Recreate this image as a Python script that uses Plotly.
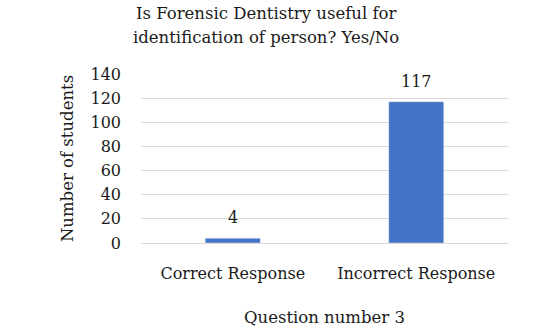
import plotly.graph_objects as go

categories = ["Correct Response", "Incorrect Response"]
values = [4, 117]
y_ticks = [0, 20, 40, 60, 80, 100, 120, 140]
title_lines = ["Is Forensic Dentistry useful for", "identification of person? Yes/No"]

FONT = "DejaVu Serif"
TXT = "#1a1a1a"

fig = go.Figure(go.Bar(
    x=categories, y=values,
    marker_color="#4472C4",
    cliponaxis=False,
))

annotations = []
for line, shift in zip(title_lines, [61, 37]):
    annotations.append(dict(
        text=line, xref="paper", yref="paper", x=0.34, xanchor="center",
        y=1.0, yshift=shift, yanchor="middle", showarrow=False,
        font=dict(family=FONT, size=16.5, color=TXT),
    ))
for c, v in zip(categories, values):
    annotations.append(dict(
        text=str(v), x=c, y=v, xref="x", yref="y",
        yanchor="bottom", yshift=9, showarrow=False,
        font=dict(family=FONT, size=16, color=TXT),
    ))

fig.update_layout(
    width=546, height=328,
    margin=dict(l=141, r=38, t=74, b=85),
    paper_bgcolor="white", plot_bgcolor="white",
    bargap=0.7,
    showlegend=False,
    font=dict(family=FONT, size=16, color=TXT),
    annotations=annotations,
)
fig.update_yaxes(
    range=[0, 140], tickvals=y_ticks, automargin=False,
    showgrid=True, gridcolor="#d9d9d9", gridwidth=1,
    zeroline=False, showline=False, ticks="",
    ticklabelstandoff=19,
    title=dict(text="Number of students", font=dict(family=FONT, size=16.5), standoff=12),
)
fig.update_xaxes(
    showline=True, linecolor="#d9d9d9", ticks="", automargin=False,
    ticklabelstandoff=16,
    title=dict(text="Question number 3", font=dict(family=FONT, size=16.5), standoff=29),
)
fig.write_html("out.html")
